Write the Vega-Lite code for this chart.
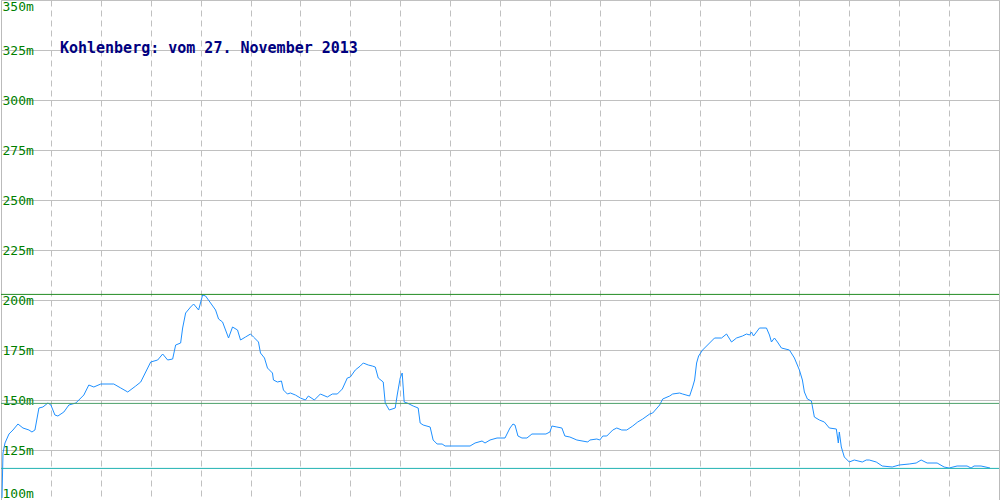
{
  "$schema": "https://vega.github.io/schema/vega-lite/v6.json",
  "width": 1000,
  "height": 500,
  "autosize": {"type": "fit", "contains": "padding"},
  "padding": 0,
  "background": "white",
  "config": {
    "view": {"stroke": "#bbbbbb", "strokeWidth": 1},
    "axis": {"gridColor": "#c0c0c0", "gridOpacity": 1, "gridWidth": 1}
  },
  "datasets": {
    "profile": [
      {"d":1,"h":101},{"d":2,"h":123.5},{"d":4,"h":128.5},{"d":8,"h":133},{"d":12,"h":135},{"d":17,"h":138},{"d":22,"h":136},{"d":28,"h":135},{"d":31,"h":134},{"d":34,"h":135},{"d":38,"h":146},{"d":42,"h":146.5},{"d":47,"h":148.5},{"d":50,"h":147.5},{"d":54,"h":142.5},{"d":57,"h":142},{"d":63,"h":144},{"d":68,"h":147.5},{"d":75,"h":148.5},{"d":83,"h":152.5},{"d":88,"h":157.5},{"d":93,"h":156.5},{"d":100,"h":158},{"d":113,"h":158},{"d":120,"h":156},{"d":127,"h":154},{"d":135,"h":157},{"d":140,"h":159},{"d":145,"h":164},{"d":150,"h":169},{"d":157,"h":170},{"d":162,"h":173},{"d":167,"h":170},{"d":172,"h":170.5},{"d":175,"h":177.5},{"d":180,"h":178.5},{"d":182,"h":186},{"d":185,"h":193.5},{"d":190,"h":196.5},{"d":193,"h":198},{"d":198,"h":195},{"d":202,"h":202.5},{"d":205,"h":202},{"d":210,"h":198.5},{"d":215,"h":195},{"d":218,"h":190.5},{"d":222,"h":189},{"d":228,"h":181},{"d":232,"h":186.5},{"d":237,"h":185},{"d":240,"h":180},{"d":245,"h":181.5},{"d":250,"h":183},{"d":253,"h":181.5},{"d":258,"h":179},{"d":260,"h":173.5},{"d":264,"h":171},{"d":267,"h":166},{"d":272,"h":163.5},{"d":273,"h":160},{"d":277,"h":159},{"d":281,"h":159.5},{"d":283,"h":155},{"d":287,"h":153},{"d":290,"h":153.5},{"d":295,"h":152.5},{"d":300,"h":151},{"d":305,"h":150},{"d":308,"h":152},{"d":314,"h":150},{"d":320,"h":153},{"d":327,"h":151.5},{"d":332,"h":153},{"d":337,"h":153},{"d":342,"h":155.5},{"d":347,"h":161},{"d":350,"h":161.5},{"d":355,"h":165},{"d":360,"h":167},{"d":363,"h":168.5},{"d":368,"h":167.5},{"d":372,"h":167},{"d":375,"h":166.5},{"d":378,"h":161},{"d":383,"h":159},{"d":385,"h":148.5},{"d":389,"h":145},{"d":395,"h":146},{"d":397,"h":152.5},{"d":400,"h":161},{"d":402,"h":163.5},{"d":404,"h":149},{"d":407,"h":148.5},{"d":413,"h":147},{"d":418,"h":146},{"d":420,"h":138.5},{"d":423,"h":137.5},{"d":430,"h":136.5},{"d":433,"h":130},{"d":437,"h":128},{"d":442,"h":128},{"d":445,"h":127},{"d":470,"h":127},{"d":475,"h":128.5},{"d":482,"h":129.5},{"d":485,"h":128.5},{"d":490,"h":130},{"d":497,"h":131},{"d":505,"h":131},{"d":510,"h":136},{"d":513,"h":138},{"d":515,"h":137.5},{"d":518,"h":132},{"d":522,"h":131},{"d":527,"h":131},{"d":532,"h":133},{"d":546,"h":133},{"d":550,"h":134},{"d":552,"h":137},{"d":557,"h":136.5},{"d":562,"h":136},{"d":565,"h":132},{"d":570,"h":131.5},{"d":577,"h":130},{"d":588,"h":129},{"d":590,"h":130},{"d":597,"h":130.5},{"d":600,"h":130},{"d":603,"h":132},{"d":607,"h":132},{"d":613,"h":135},{"d":617,"h":136},{"d":622,"h":135},{"d":627,"h":135},{"d":633,"h":137},{"d":638,"h":139},{"d":643,"h":140.5},{"d":650,"h":143},{"d":653,"h":143.5},{"d":660,"h":147.5},{"d":663,"h":150.5},{"d":670,"h":152},{"d":673,"h":153},{"d":680,"h":153.5},{"d":683,"h":153},{"d":690,"h":152},{"d":693,"h":156.5},{"d":695,"h":160},{"d":697,"h":168.5},{"d":699,"h":172},{"d":703,"h":175},{"d":710,"h":178.5},{"d":715,"h":181},{"d":722,"h":181},{"d":727,"h":183},{"d":732,"h":179},{"d":737,"h":181},{"d":743,"h":182},{"d":747,"h":183},{"d":750,"h":182.5},{"d":752,"h":184},{"d":754,"h":182},{"d":757,"h":184},{"d":760,"h":186},{"d":767,"h":186},{"d":770,"h":182.5},{"d":772,"h":179},{"d":775,"h":181},{"d":778,"h":179},{"d":782,"h":176},{"d":790,"h":175},{"d":795,"h":171},{"d":800,"h":165},{"d":803,"h":160},{"d":805,"h":154},{"d":808,"h":150.5},{"d":812,"h":149.5},{"d":815,"h":141.5},{"d":820,"h":140},{"d":825,"h":139},{"d":830,"h":136},{"d":837,"h":135.5},{"d":839,"h":128.5},{"d":840,"h":134},{"d":842,"h":126.5},{"d":845,"h":121.5},{"d":850,"h":119},{"d":855,"h":120},{"d":863,"h":119},{"d":867,"h":120},{"d":870,"h":120},{"d":877,"h":119},{"d":883,"h":117},{"d":893,"h":116.5},{"d":900,"h":117.5},{"d":910,"h":118},{"d":917,"h":118.5},{"d":922,"h":120},{"d":928,"h":118.5},{"d":938,"h":118.5},{"d":945,"h":116.5},{"d":950,"h":116},{"d":958,"h":117},{"d":968,"h":117},{"d":972,"h":116},{"d":975,"h":117},{"d":982,"h":117},{"d":991,"h":116}
    ],
    "refs": [
      {"kind": "max", "h": 202.8},
      {"kind": "avg", "h": 148.3},
      {"kind": "min", "h": 115.8}
    ],
    "label": [
      {"text": "Kohlenberg: vom 27. November 2013", "d": 59, "h": 326}
    ]
  },
  "layer": [
    {
      "data": {"name": "profile"},
      "mark": {"type": "line", "color": "#1e90ff", "strokeWidth": 1, "clip": true},
      "encoding": {
        "x": {
          "field": "d", "type": "quantitative",
          "scale": {"domain": [0, 1000], "nice": false, "zero": false},
          "axis": {
            "title": null, "labels": false, "ticks": false, "domain": false,
            "grid": true, "values": [50,100,150,200,250,300,350,400,450,500,550,600,650,700,750,800,850,900,950],
            "gridDash": [6, 4]
          }
        },
        "y": {
          "field": "h", "type": "quantitative",
          "scale": {"domain": [100, 350], "nice": false, "zero": false},
          "axis": {
            "title": null, "ticks": false, "domain": false, "grid": true,
            "values": [100,125,150,175,200,225,250,275,300,325,350],
            "labelExpr": "datum.value + 'm'",
            "labelAlign": "left", "labelPadding": -1,
            "labelFlush": true,
            "labelFont": "DejaVu Sans Mono", "labelFontSize": 13,
            "labelColor": "#008000"
          }
        }
      }
    },
    {
      "data": {"name": "refs"},
      "mark": {"type": "rule", "strokeWidth": 1},
      "encoding": {
        "y": {"field": "h", "type": "quantitative"},
        "color": {
          "field": "kind", "type": "nominal",
          "scale": {"domain": ["max", "avg", "min"], "range": ["#228b22", "#4ca06a", "#20b2b2"]},
          "legend": null
        }
      }
    },
    {
      "data": {"name": "label"},
      "mark": {"type": "text", "align": "left", "baseline": "middle", "font": "DejaVu Sans Mono", "fontSize": 15, "fontWeight": "bold", "color": "#000080"},
      "encoding": {
        "x": {"field": "d", "type": "quantitative"},
        "y": {"field": "h", "type": "quantitative"},
        "text": {"field": "text"}
      }
    }
  ]
}
